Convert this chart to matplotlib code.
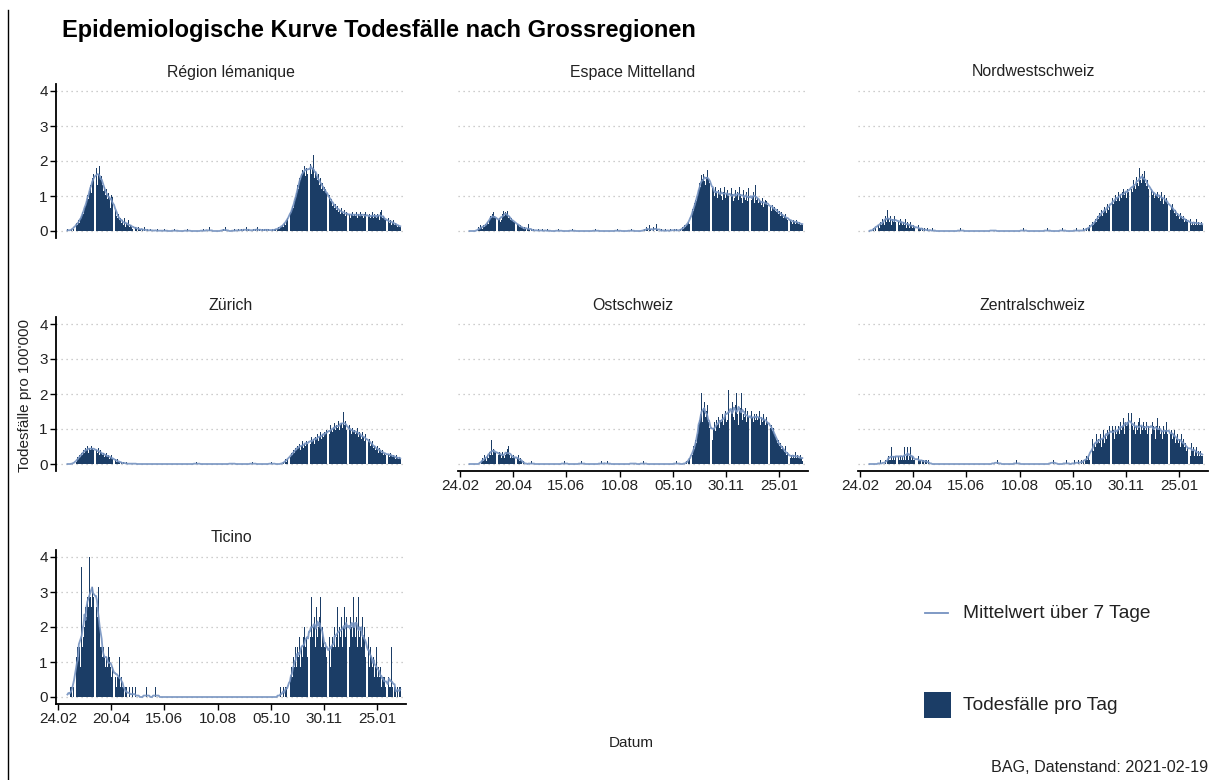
import numpy as np
import pandas as pd
import matplotlib
matplotlib.use("Agg")
import matplotlib.pyplot as plt
import matplotlib.dates as mdates
from matplotlib.lines import Line2D
from matplotlib.patches import Rectangle

plt.rcParams["font.family"] = ["Liberation Sans", "DejaVu Sans"]

# ---------------------------------------------------------
# DATA: daily deaths per region, from 2020-03-05 (one line per month)
# ---------------------------------------------------------
start_date = "2020-03-05"

lemanique = [
    1, 0, 0, 0, 1, 0, 1, 2, 3, 2, 4, 3, 5, 4, 6, 7, 9, 8, 11, 12, 14, 17, 15, 19, 22, 18, 25,
    27, 24, 28, 26, 30, 22, 27, 31, 25, 26, 22, 19, 21, 17, 20, 15, 18, 16, 11, 17, 16, 12, 17, 8, 10, 7, 6, 8, 5, 6,
    4, 5, 3, 6, 2, 4, 3, 5, 2, 3, 2, 1, 3, 2, 1, 2, 1, 0, 2, 1, 1, 0, 1, 0, 2, 0, 0, 1, 0, 0, 1,
    0, 0, 1, 0, 0, 0, 0, 1, 0, 0, 0, 0, 0, 0, 1, 0, 0, 0, 0, 0, 0, 0, 0, 0, 0, 1, 0, 0, 0, 0,
    0, 0, 0, 0, 0, 0, 0, 0, 1, 0, 0, 0, 0, 0, 0, 0, 0, 0, 0, 0, 0, 0, 0, 0, 0, 1, 0, 0, 0, 0, 0,
    2, 0, 0, 0, 0, 0, 0, 0, 0, 0, 0, 0, 0, 0, 0, 1, 0, 2, 0, 0, 0, 0, 0, 0, 0, 0, 0, 1, 0, 0, 0,
    1, 0, 0, 1, 0, 1, 0, 0, 2, 0, 1, 0, 0, 1, 0, 0, 1, 0, 1, 0, 2, 0, 1, 0, 0, 1, 0, 1, 0, 1,
    0, 1, 0, 1, 0, 0, 1, 0, 1, 1, 0, 1, 2, 1, 2, 2, 3, 2, 4, 3, 5, 6, 5, 8, 7, 9, 10, 12, 11, 14, 16,
    18, 22, 20, 25, 24, 27, 29, 28, 31, 26, 30, 27, 33, 28, 29, 32, 27, 30, 36, 25, 28, 26, 24, 27, 22, 25, 20, 23, 19, 21,
    20, 18, 16, 19, 15, 17, 14, 15, 12, 13, 11, 13, 10, 12, 9, 10, 8, 11, 9, 8, 10, 7, 9, 8, 7, 9, 8, 6, 8, 9, 7,
    8, 7, 9, 6, 8, 7, 9, 8, 7, 6, 8, 9, 7, 8, 6, 7, 8, 6, 7, 9, 6, 8, 7, 6, 8, 7, 5, 9, 10, 6, 7,
    6, 5, 6, 4, 5, 6, 4, 5, 3, 4, 5, 3, 4, 3, 2, 3, 2, 2,
]

mittelland = [
    0, 0, 0, 0, 0, 0, 0, 0, 0, 0, 2, 1, 3, 2, 1, 3, 2, 4, 3, 5, 4, 6, 8, 7, 9, 10, 8,
    7, 6, 5, 8, 6, 7, 5, 6, 9, 11, 8, 10, 9, 11, 7, 8, 6, 7, 6, 5, 5, 4, 6, 3, 4, 3, 2, 3, 2, 2,
    1, 2, 1, 0, 1, 4, 1, 0, 1, 0, 1, 0, 0, 1, 0, 0, 1, 0, 0, 0, 1, 0, 0, 0, 0, 1, 0, 0, 0, 0, 0,
    0, 0, 0, 0, 0, 0, 1, 0, 0, 0, 0, 0, 0, 0, 0, 0, 0, 0, 0, 0, 1, 0, 0, 0, 0, 0, 0, 0, 0, 0,
    0, 0, 0, 0, 0, 0, 0, 0, 0, 0, 0, 0, 0, 0, 0, 1, 0, 0, 0, 0, 0, 0, 0, 0, 0, 0, 0, 0, 0, 0, 0,
    0, 0, 0, 0, 0, 0, 0, 1, 0, 0, 0, 0, 0, 0, 0, 0, 0, 0, 0, 0, 0, 1, 0, 0, 0, 0, 0, 0, 0, 0, 0,
    0, 0, 0, 0, 1, 0, 2, 1, 0, 3, 1, 0, 0, 1, 2, 0, 0, 4, 1, 0, 0, 0, 1, 0, 0, 0, 1, 0, 0, 0,
    0, 1, 0, 0, 1, 0, 1, 0, 1, 0, 0, 0, 1, 0, 2, 1, 3, 2, 3, 4, 5, 4, 6, 8, 9, 12, 11, 15, 17, 16, 19,
    22, 26, 24, 30, 28, 31, 27, 25, 29, 33, 28, 26, 34, 24, 20, 23, 22, 19, 24, 21, 18, 22, 20, 23, 19, 17, 21, 24, 18, 20,
    22, 19, 18, 21, 17, 23, 20, 16, 18, 22, 19, 21, 17, 24, 20, 18, 15, 22, 19, 17, 21, 16, 23, 18, 14, 20, 17, 19, 21, 15, 25,
    17, 18, 15, 17, 16, 14, 18, 13, 15, 17, 16, 14, 12, 16, 15, 13, 11, 14, 12, 13, 11, 10, 12, 9, 11, 8, 10, 9, 7, 8, 9,
    7, 6, 8, 5, 7, 6, 5, 4, 6, 5, 4, 6, 5, 4, 5, 3, 4, 3,
]

nordwest = [
    0, 0, 0, 0, 1, 0, 1, 2, 1, 3, 2, 1, 3, 2, 4, 3, 2, 5, 3, 7, 4, 3, 5, 2, 4, 3, 5,
    3, 4, 2, 5, 3, 2, 4, 3, 2, 3, 2, 4, 1, 3, 2, 1, 3, 2, 1, 2, 1, 2, 1, 1, 0, 2, 1, 1, 0, 1,
    0, 1, 0, 0, 1, 0, 0, 0, 0, 1, 0, 0, 0, 0, 0, 0, 0, 0, 0, 0, 0, 0, 0, 0, 0, 0, 0, 0, 0, 0, 0,
    0, 0, 0, 0, 0, 0, 0, 0, 1, 0, 0, 0, 0, 0, 0, 0, 0, 0, 0, 0, 0, 0, 0, 0, 0, 0, 0, 0, 0, 0,
    0, 0, 0, 0, 0, 0, 0, 0, 0, 0, 0, 0, 1, 0, 0, 0, 0, 0, 0, 0, 0, 0, 0, 0, 0, 0, 0, 0, 0, 0, 0,
    0, 0, 0, 0, 0, 0, 0, 0, 0, 0, 0, 0, 0, 1, 0, 0, 0, 0, 0, 0, 0, 0, 0, 0, 0, 0, 0, 0, 0, 0, 0,
    0, 0, 0, 0, 0, 0, 0, 1, 0, 0, 0, 0, 0, 0, 0, 0, 0, 0, 0, 0, 0, 0, 0, 1, 0, 0, 0, 0, 0, 0,
    0, 0, 0, 0, 0, 0, 0, 0, 1, 0, 0, 0, 0, 0, 0, 1, 0, 0, 1, 0, 1, 2, 1, 2, 1, 3, 2, 3, 4, 3, 5,
    4, 6, 5, 7, 5, 6, 8, 7, 6, 9, 7, 8, 10, 8, 9, 11, 9, 10, 12, 10, 11, 13, 10, 12, 11, 13, 14, 12, 13, 11,
    14, 13, 15, 12, 16, 14, 13, 17, 15, 14, 18, 16, 15, 21, 17, 16, 19, 18, 20, 16, 15, 17, 14, 16, 13, 15, 14, 12, 13, 11, 12,
    12, 13, 11, 12, 10, 13, 11, 9, 12, 10, 11, 9, 10, 8, 9, 7, 8, 9, 7, 6, 7, 5, 6, 5, 4, 6, 5, 4, 5, 3, 4,
    4, 3, 4, 2, 3, 4, 2, 3, 2, 3, 2, 4, 2, 3, 2, 2, 3, 2,
]

zuerich = [
    0, 0, 0, 0, 0, 0, 0, 1, 0, 2, 1, 3, 2, 4, 3, 5, 4, 6, 5, 7, 6, 8, 5, 7, 6, 8, 7,
    6, 8, 5, 7, 6, 5, 7, 4, 6, 5, 4, 5, 3, 4, 5, 3, 4, 2, 3, 4, 2, 3, 2, 1, 2, 1, 2, 1, 1, 0,
    1, 0, 1, 0, 0, 1, 0, 0, 0, 0, 0, 0, 1, 0, 0, 0, 0, 0, 0, 0, 0, 0, 0, 0, 0, 0, 0, 0, 0, 0, 0,
    0, 0, 0, 0, 0, 0, 0, 0, 0, 0, 0, 0, 0, 0, 0, 0, 0, 0, 0, 0, 0, 0, 0, 0, 0, 0, 0, 0, 0, 0,
    0, 0, 0, 0, 0, 0, 0, 0, 0, 0, 0, 0, 0, 0, 0, 0, 0, 0, 1, 0, 0, 0, 0, 0, 0, 0, 0, 0, 0, 0, 0,
    0, 0, 0, 0, 0, 0, 0, 0, 0, 0, 0, 0, 0, 0, 0, 0, 0, 0, 0, 0, 0, 0, 0, 0, 1, 0, 0, 0, 0, 0, 0,
    0, 0, 0, 0, 0, 0, 0, 0, 0, 0, 0, 0, 0, 0, 0, 1, 0, 0, 0, 0, 0, 0, 0, 0, 0, 0, 0, 0, 0, 0,
    0, 0, 0, 0, 0, 1, 0, 0, 0, 0, 0, 0, 0, 0, 0, 0, 0, 1, 0, 2, 1, 2, 3, 2, 4, 3, 5, 4, 6, 5, 7,
    6, 8, 7, 9, 6, 8, 10, 7, 9, 8, 10, 9, 11, 8, 10, 9, 12, 10, 11, 9, 12, 11, 13, 10, 12, 14, 11, 13, 12, 14,
    13, 15, 12, 16, 14, 13, 17, 15, 14, 16, 18, 15, 17, 16, 19, 15, 17, 18, 16, 23, 17, 19, 15, 18, 16, 14, 17, 15, 13, 16, 14,
    15, 13, 14, 16, 12, 14, 13, 11, 14, 12, 10, 13, 11, 12, 9, 10, 11, 8, 9, 10, 7, 8, 6, 7, 8, 5, 7, 6, 5, 6, 4,
    5, 4, 6, 3, 5, 4, 3, 5, 4, 3, 4, 3, 2, 4, 3, 2, 3, 2,
]

ostschweiz = [
    0, 0, 0, 0, 0, 0, 0, 0, 0, 0, 0, 0, 0, 1, 2, 1, 3, 2, 1, 3, 2, 4, 3, 8, 3, 5, 4,
    4, 3, 5, 4, 3, 4, 3, 2, 4, 3, 2, 3, 4, 5, 6, 3, 2, 3, 2, 3, 2, 3, 2, 1, 2, 3, 1, 2, 1, 0,
    1, 0, 0, 0, 0, 0, 0, 0, 1, 0, 0, 0, 0, 0, 0, 0, 0, 0, 0, 0, 0, 0, 0, 0, 0, 0, 0, 0, 0, 0, 0,
    0, 0, 0, 0, 0, 0, 0, 0, 0, 0, 0, 0, 1, 0, 0, 0, 0, 0, 0, 0, 0, 0, 0, 0, 0, 0, 0, 0, 0, 0,
    1, 0, 0, 0, 0, 0, 0, 0, 0, 0, 0, 0, 0, 0, 0, 0, 0, 0, 0, 0, 0, 1, 0, 0, 0, 0, 0, 1, 0, 0, 0,
    0, 0, 0, 0, 0, 0, 0, 0, 0, 0, 0, 0, 0, 0, 0, 0, 0, 0, 0, 0, 0, 0, 0, 1, 0, 0, 0, 0, 0, 0, 0,
    0, 0, 0, 1, 0, 0, 0, 0, 0, 0, 0, 0, 0, 0, 0, 0, 0, 0, 0, 0, 0, 0, 0, 0, 0, 0, 0, 0, 0, 0,
    0, 0, 0, 0, 0, 0, 0, 0, 1, 0, 0, 0, 0, 0, 0, 0, 0, 0, 1, 0, 1, 2, 1, 3, 4, 3, 6, 5, 8, 7, 10,
    13, 15, 17, 24, 14, 19, 21, 16, 18, 20, 14, 12, 15, 10, 13, 8, 12, 14, 11, 15, 13, 16, 12, 15, 14, 17, 13, 16, 18, 14,
    15, 25, 17, 14, 19, 18, 21, 16, 15, 20, 24, 17, 13, 18, 19, 24, 15, 17, 16, 19, 14, 18, 16, 15, 17, 13, 18, 16, 14, 17, 15,
    17, 15, 16, 18, 13, 16, 14, 17, 15, 13, 16, 14, 15, 12, 14, 12, 13, 11, 12, 10, 9, 8, 7, 8, 6, 7, 5, 6, 5, 4, 6,
    3, 4, 2, 3, 4, 2, 3, 2, 3, 2, 4, 2, 3, 2, 2, 3, 2, 1,
]

zentral = [
    0, 0, 0, 0, 0, 0, 0, 0, 0, 0, 0, 0, 1, 0, 0, 0, 0, 1, 0, 1, 2, 1, 1, 4, 1, 2, 1,
    2, 1, 1, 4, 2, 1, 2, 1, 2, 1, 4, 1, 2, 4, 1, 2, 4, 1, 2, 1, 1, 2, 1, 1, 0, 2, 1, 1, 0, 1,
    1, 0, 1, 1, 0, 1, 0, 0, 0, 0, 0, 0, 0, 0, 0, 0, 0, 0, 0, 0, 0, 0, 0, 0, 0, 0, 0, 0, 0, 0, 0,
    0, 0, 0, 0, 0, 0, 0, 0, 0, 0, 0, 0, 0, 0, 0, 0, 0, 0, 0, 0, 0, 0, 0, 0, 0, 0, 0, 0, 0, 0,
    0, 0, 0, 0, 0, 0, 0, 0, 0, 0, 0, 0, 0, 0, 1, 0, 0, 1, 0, 0, 0, 0, 0, 0, 0, 0, 0, 0, 0, 0, 0,
    0, 0, 0, 0, 0, 0, 1, 0, 0, 0, 0, 0, 0, 0, 0, 0, 0, 0, 0, 0, 0, 0, 0, 0, 0, 0, 0, 0, 0, 0, 0,
    0, 0, 0, 0, 0, 0, 0, 0, 0, 0, 0, 0, 1, 0, 1, 0, 0, 0, 0, 0, 0, 0, 0, 0, 0, 0, 0, 1, 0, 0,
    0, 0, 0, 0, 0, 0, 1, 0, 0, 0, 1, 0, 0, 1, 0, 1, 0, 1, 2, 1, 2, 1, 2, 3, 4, 6, 3, 5, 4, 7, 5,
    6, 5, 7, 4, 6, 8, 5, 7, 6, 8, 7, 9, 6, 8, 7, 9, 8, 6, 9, 7, 8, 9, 7, 10, 8, 9, 11, 7, 10, 9,
    10, 12, 9, 8, 11, 12, 9, 8, 10, 7, 9, 8, 10, 11, 7, 9, 8, 10, 9, 8, 10, 7, 9, 8, 11, 9, 7, 10, 9, 8, 6,
    9, 11, 8, 9, 7, 8, 6, 9, 7, 8, 10, 7, 8, 6, 9, 7, 8, 6, 7, 8, 5, 6, 7, 5, 6, 4, 7, 5, 6, 4, 5,
    3, 4, 5, 3, 4, 2, 5, 3, 4, 2, 3, 4, 2, 3, 2, 3, 2, 2,
]

ticino = [
    0, 0, 0, 1, 1, 0, 1, 1, 2, 3, 4, 5, 4, 5, 3, 13, 5, 6, 7, 9, 8, 10, 9, 14, 10, 9, 11,
    10, 12, 11, 10, 9, 8, 11, 7, 5, 5, 4, 5, 4, 3, 4, 3, 5, 4, 3, 2, 3, 4, 2, 3, 2, 1, 2, 2, 4, 1,
    2, 1, 1, 0, 1, 1, 0, 0, 1, 0, 0, 1, 0, 0, 0, 1, 0, 0, 0, 0, 0, 0, 0, 0, 0, 0, 1, 0, 0, 0, 0,
    0, 0, 0, 0, 0, 1, 0, 0, 0, 0, 0, 0, 0, 0, 0, 0, 0, 0, 0, 0, 0, 0, 0, 0, 0, 0, 0, 0, 0, 0,
    0, 0, 0, 0, 0, 0, 0, 0, 0, 0, 0, 0, 0, 0, 0, 0, 0, 0, 0, 0, 0, 0, 0, 0, 0, 0, 0, 0, 0, 0, 0,
    0, 0, 0, 0, 0, 0, 0, 0, 0, 0, 0, 0, 0, 0, 0, 0, 0, 0, 0, 0, 0, 0, 0, 0, 0, 0, 0, 0, 0, 0, 0,
    0, 0, 0, 0, 0, 0, 0, 0, 0, 0, 0, 0, 0, 0, 0, 0, 0, 0, 0, 0, 0, 0, 0, 0, 0, 0, 0, 0, 0, 0,
    0, 0, 0, 0, 0, 0, 0, 0, 0, 0, 0, 0, 0, 0, 1, 0, 0, 1, 0, 1, 1, 0, 2, 1, 1, 2, 3, 2, 4, 3, 5,
    3, 5, 4, 6, 3, 5, 4, 6, 7, 5, 6, 4, 8, 5, 7, 6, 10, 6, 7, 8, 5, 9, 6, 7, 8, 10, 5, 7, 6, 5,
    5, 4, 6, 5, 4, 6, 3, 5, 6, 5, 7, 5, 6, 9, 5, 7, 6, 8, 5, 7, 9, 6, 8, 7, 6, 9, 5, 8, 7, 6, 10,
    7, 6, 8, 5, 10, 6, 7, 5, 8, 6, 7, 4, 6, 5, 4, 6, 3, 5, 4, 3, 4, 2, 3, 5, 2, 3, 2, 3, 1, 2, 2,
    2, 1, 2, 1, 1, 2, 1, 1, 5, 1, 0, 1, 1, 0, 1, 0, 1, 1,
]

region_names = ["Région lémanique", "Espace Mittelland", "Nordwestschweiz",
                "Zürich", "Ostschweiz", "Zentralschweiz", "Ticino"]
region_counts = [lemanique, mittelland, nordwest, zuerich, ostschweiz, zentral, ticino]
population = [1660000, 1890000, 1160000, 1540000, 1180000, 830000, 351000]

tick_dates = ["2020-02-24", "2020-04-20", "2020-06-15", "2020-08-10",
              "2020-10-05", "2020-11-30", "2021-01-25"]

# ---------------------------------------------------------
# STYLE
# ---------------------------------------------------------
bar_color = "#1b3d66"
line_color = "#7592c0"
grid_color = "#bdbdbd"
text_color = "#222222"

W, H = 1209, 780
fig = plt.figure(figsize=(W / 100, H / 100), dpi=100)
fig.patch.set_facecolor("white")

def rect(left, top, width, height):
    return [left / W, 1 - (top + height) / H, width / W, height / H]

col_left = [56, 458, 858]
row_top = [84, 317, 550]
panel_w, panel_h = 350, 154

xmin = mdates.date2num(pd.Timestamp("2020-02-22"))
xmax = mdates.date2num(pd.Timestamp("2021-02-24"))

for i, (name, counts, pop) in enumerate(zip(region_names, region_counts, population)):
    r, c = divmod(i, 3)
    ax = fig.add_axes(rect(col_left[c], row_top[r], panel_w, panel_h))

    dates = pd.date_range(start_date, periods=len(counts), freq="D")
    vals = np.array(counts, dtype=float) / pop * 100000
    mean7 = pd.Series(vals).rolling(7, center=True, min_periods=1).mean().values

    for y in range(5):
        ax.axhline(y, color=grid_color, lw=0.9, ls=(0, (1, 3)), zorder=0)
    ax.bar(dates, vals, width=0.9, color=bar_color, linewidth=0, zorder=2)
    ax.plot(dates, mean7, color=line_color, lw=1.3, alpha=0.9, zorder=3)

    ax.set_xlim(xmin, xmax)
    ax.set_ylim(-0.2, 4.2)
    for s in ax.spines.values():
        s.set_visible(False)

    ax.text(0.5, 1 + 12 / panel_h, name, transform=ax.transAxes,
            ha="center", va="center", fontsize=11.4, color=text_color)

    show_y = (c == 0)
    show_x = (r == 2) or (r == 1 and c > 0)

    ax.set_yticks(range(5))
    if show_y:
        ax.spines["left"].set_visible(True)
        ax.spines["left"].set_linewidth(1.3)
        ax.tick_params(axis="y", length=4, width=1, labelsize=11,
                       labelcolor=text_color, pad=2)
    else:
        ax.tick_params(axis="y", left=False, labelleft=False)

    ax.set_xticks([mdates.date2num(pd.Timestamp(d)) for d in tick_dates])
    ax.xaxis.set_major_formatter(mdates.DateFormatter("%d.%m"))
    if show_x:
        ax.spines["bottom"].set_visible(True)
        ax.spines["bottom"].set_linewidth(1.3)
        ax.tick_params(axis="x", length=4, width=1, labelsize=11,
                       labelcolor=text_color, pad=2)
    else:
        ax.tick_params(axis="x", bottom=False, labelbottom=False)

# titles and axis labels
fig.text(62 / W, 1 - 30 / H, "Epidemiologische Kurve Todesfälle nach Grossregionen",
         fontsize=17, fontweight="bold", ha="left", va="center", color="black")
fig.text(631 / W, 1 - 743 / H, "Datum", fontsize=11, ha="center", va="center",
         color=text_color)
fig.text(25 / W, 1 - 395 / H, "Todesfälle pro 100'000", fontsize=11, rotation=90,
         ha="center", va="center", color=text_color)

# legend
fig.add_artist(Line2D([925 / W, 948 / W], [1 - 613 / H, 1 - 613 / H],
                      color=line_color, lw=1.3))
fig.text(963 / W, 1 - 613 / H, "Mittelwert über 7 Tage", fontsize=13.8,
         ha="left", va="center", color=text_color)
fig.add_artist(Rectangle((924 / W, 1 - 718 / H), 27 / W, 26 / H,
                         transform=fig.transFigure, color=bar_color, lw=0))
fig.text(963 / W, 1 - 705 / H, "Todesfälle pro Tag", fontsize=13.8,
         ha="left", va="center", color=text_color)

# caption
fig.text(1208 / W, 1 - 767 / H, "BAG, Datenstand: 2021-02-19", fontsize=11.6,
         ha="right", va="center", color=text_color)

# frame line on the left edge
fig.add_artist(Line2D([8 / W, 8 / W], [0, 1 - 10 / H], color="black", lw=1.0))

fig.savefig("out.png", dpi=100)
